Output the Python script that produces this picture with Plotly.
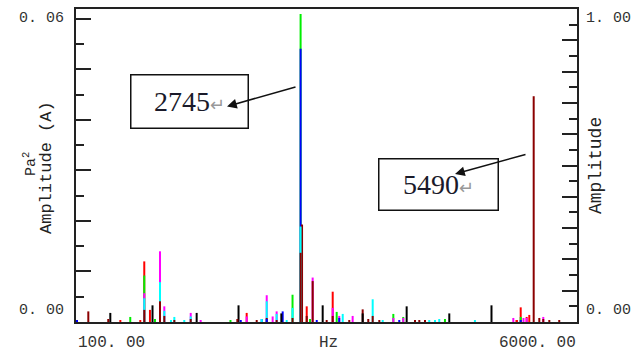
import plotly.graph_objects as go

# Spectrum lines per channel: frequency (Hz) and power (Pa^2)
BLACK_HZ = [504, 1001, 1521, 2014, 2518, 3005, 3476, 3994, 4496, 4993]
BLACK_PA2 = [0.0018, 0.0033, 0.0018, 0.0033, 0.0017, 0.0033, 0.0017, 0.0031, 0.0017, 0.0033]

DARKRED_HZ = [245, 480, 904, 1089, 1140, 1258, 1451, 2000, 2228, 2346, 2463, 2650, 2745, 2762,
              2817, 2887, 3052, 3123, 3318, 3476, 3542, 3594, 3672, 4092, 4143, 4210, 5290,
              5490, 5556, 5603, 5674, 5791]
DARKRED_PA2 = [0.0021, 0.0006, 0.0024, 0.0041, 0.0012, 0.0004, 0.0006, 0.0006, 0.0004, 0.0008,
               0.0004, 0.0008, 0.0137, 0.0193, 0.0012, 0.0081, 0.0004, 0.0012, 0.0004, 0.0025,
               0.0006, 0.0012, 0.0004, 0.0004, 0.0004, 0.0004, 0.0004, 0.0447, 0.0008, 0.0006,
               0.0004, 0.0004]

RED_HZ = [622, 857, 904, 971, 2110, 2817, 3123, 5290, 5337, 5407, 5438]
RED_PA2 = [0.0004, 0.0004, 0.0120, 0.0024, 0.0018, 0.0031, 0.0060, 0.0004, 0.0029, 0.0010, 0.0014]

GREEN_HZ = [739, 904, 1030, 1919, 2650, 2745, 2856, 3170, 3837, 3954, 4445, 5337]
GREEN_PA2 = [0.0010, 0.0092, 0.0006, 0.0004, 0.0054, 0.0610, 0.0006, 0.0020, 0.0016, 0.0010,
             0.0006, 0.0010]

BLUE_HZ = [112, 2040, 2287, 2346, 2534, 2745, 2935, 3200, 3907, 5337]
BLUE_PA2 = [0.0004, 0.0004, 0.0006, 0.0006, 0.0021, 0.0541, 0.0004, 0.0008, 0.0004, 0.0004]

CYAN_HZ = [904, 1089, 1140, 1219, 1258, 1375, 1451, 2287, 2346, 2463, 2581, 2650, 2745, 3241,
           3594, 3712, 4260, 4328, 4378, 4798]
CYAN_PA2 = [0.0047, 0.0079, 0.0022, 0.0004, 0.0010, 0.0004, 0.0011, 0.0006, 0.0041, 0.0016,
            0.0004, 0.0028, 0.0189, 0.0016, 0.0045, 0.0004, 0.0004, 0.0004, 0.0006, 0.0004]

MAGENTA_HZ = [904, 1089, 1140, 1451, 1568, 2110, 2346, 2416, 2463, 2887, 3123, 3200, 3358, 3837,
              3954, 5250, 5370, 5407, 5603]
MAGENTA_PA2 = [0.0057, 0.0140, 0.0031, 0.0018, 0.0004, 0.0011, 0.0053, 0.0011, 0.0021, 0.0088,
               0.0028, 0.0012, 0.0012, 0.0008, 0.0008, 0.0008, 0.0008, 0.0008, 0.0010]

SERIES = [
    ("#000000", BLACK_HZ, BLACK_PA2),
    ("#8b0000", DARKRED_HZ, DARKRED_PA2),
    ("#ff0000", RED_HZ, RED_PA2),
    ("#00ee00", GREEN_HZ, GREEN_PA2),
    ("#0000ff", BLUE_HZ, BLUE_PA2),
    ("#00ffff", CYAN_HZ, CYAN_PA2),
    ("#ff00ff", MAGENTA_HZ, MAGENTA_PA2),
]

PEAK_LABELS = [2745, 5490]
X_RANGE = [100, 6000]
Y_LEFT_MAX = 0.06
Y_RIGHT_MAX = 1.0

# Figure geometry (pixels)
W, H = 633, 356
L, R, T, B = 76, 56, 7, 34
PW, PH = W - L - R, H - T - B
BOTTOM = H - B
Y_TOP = Y_LEFT_MAX * (PH / (PH - 10))  # 0.06 sits 10 px below the frame top


def px(x):
    return (x - L) / PW


def py(y):
    return (BOTTOM - y) / PH


fig = go.Figure()

# every line drops from zero; taller lines go underneath shorter ones
segments = []
for color, hz, vals in SERIES:
    for f, v in zip(hz, vals):
        segments.append((v, f, color))
segments.sort(key=lambda s: -s[0])
for v, f, color in segments:
    fig.add_trace(go.Scatter(x=[f, f], y=[0, v], mode="lines",
                             line=dict(color=color, width=2),
                             showlegend=False, hoverinfo="skip"))

# empty trace to carry the right-hand amplitude axis
fig.add_trace(go.Scatter(x=[], y=[], yaxis="y2", showlegend=False, hoverinfo="skip"))

axis_line = dict(showline=True, linecolor="#222", linewidth=2)

fig.update_layout(
    width=W, height=H,
    margin=dict(l=L, r=R, t=T, b=B),
    paper_bgcolor="white", plot_bgcolor="white",
    xaxis=dict(range=X_RANGE, showgrid=False, zeroline=False, mirror=True,
               ticks="", showticklabels=False, **axis_line),
    yaxis=dict(range=[0, Y_TOP], showgrid=False, zeroline=False,
               ticks="inside", ticklen=15, tickwidth=2, tickcolor="#222",
               tick0=0, dtick=0.01, showticklabels=False,
               minor=dict(ticks="inside", ticklen=8, tickwidth=2, tickcolor="#222",
                          dtick=0.005, showgrid=False),
               **axis_line),
    yaxis2=dict(range=[0, Y_RIGHT_MAX], overlaying="y", side="right",
                showgrid=False, zeroline=False,
                ticks="inside", ticklen=15, tickwidth=2, tickcolor="#222",
                tick0=0, dtick=0.1, showticklabels=False,
                minor=dict(ticks="inside", ticklen=8, tickwidth=2, tickcolor="#222",
                           dtick=0.05, showgrid=False),
                **axis_line),
)

mono = "Liberation Mono, DejaVu Sans Mono, monospace"
tick_font = dict(family=mono, size=15, color="#333")


def label(text, x, y, xanchor="center", yanchor="middle", font=tick_font, angle=0):
    fig.add_annotation(text=text, x=px(x), y=py(y), xref="paper", yref="paper",
                       xanchor=xanchor, yanchor=yanchor, showarrow=False,
                       font=font, textangle=angle)


# axis end labels
label("0. 06", 66, 17, xanchor="right")
label("0. 00", 66, 310, xanchor="right")
label("1. 00", 584, 17, xanchor="left")
label("0. 00", 584, 310, xanchor="left")
x_font = dict(family=mono, size=16, color="#333")
label("100. 00", 76, 343, xanchor="left", font=x_font)
label("6000. 00", 578, 343, xanchor="right", font=x_font)
label("Hz", 328, 343, font=x_font)

# axis titles
label("Pa<sup>2</sup>", 30, 163, font=dict(family=mono, size=15, color="#222"), angle=-90)
label("Amplitude (A)", 47, 167, font=dict(family=mono, size=17, color="#222"), angle=-90)
label("Amplitude", 596, 165, font=dict(family=mono, size=18, color="#222"), angle=-90)

# peak callouts: boxed frequency label with an arrow pointing from the line
box_font = dict(family="Liberation Serif, Times New Roman, serif", size=28, color="#1a1a2a")
callouts = [
    (PEAK_LABELS[0], (189, 100), (112, 48), (227, 105), (297, 85)),
    (PEAK_LABELS[1], (438, 184), (114, 46), (455, 173), (527, 153)),
]


def fx(p):
    return X_RANGE[0] + (p - L) / PW * (X_RANGE[1] - X_RANGE[0])


def fy(p):
    return (BOTTOM - p) / PH * Y_TOP


for value, (cx, cy), (bw, bh), tip, tail in callouts:
    fig.add_annotation(
        text=f"{value}<span style='color:#999;font-size:18px'>\u21b5</span>",
        x=px(cx), y=py(cy), xref="paper", yref="paper",
        xanchor="center", yanchor="middle", showarrow=False,
        width=bw, height=bh, borderpad=2, borderwidth=1.5, bordercolor="#111",
        bgcolor="white", font=box_font,
    )
    fig.add_annotation(
        x=fx(tip[0]), y=fy(tip[1]), ax=fx(tail[0]), ay=fy(tail[1]),
        xref="x", yref="y", axref="x", ayref="y", text="",
        showarrow=True, arrowhead=2, arrowsize=1.3, arrowwidth=1.5,
        arrowcolor="#111", standoff=0, startstandoff=0,
    )

fig.write_html("out.html")
